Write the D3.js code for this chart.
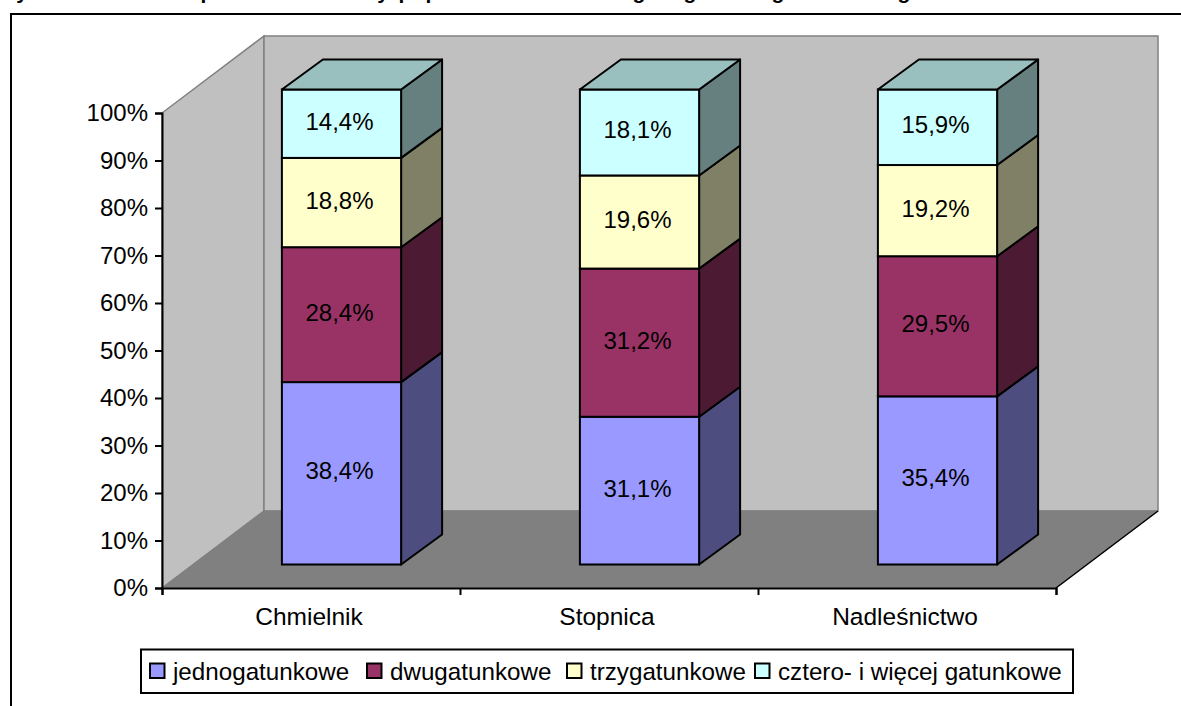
<!DOCTYPE html>
<html><head><meta charset="utf-8">
<style>html,body{margin:0;padding:0;background:#fff;overflow:hidden}svg{display:block}text{font-family:"Liberation Sans",Arial,sans-serif;fill:#000}</style>
<script src="https://cdnjs.cloudflare.com/ajax/libs/d3/7.8.5/d3.min.js"></script>
</head><body><script>
const categories=["Chmielnik","Stopnica","Nadleśnictwo"];
const seriesNames=["jednogatunkowe","dwugatunkowe","trzygatunkowe","cztero- i więcej gatunkowe"];
const jednogatunkowe=[38.4,31.1,35.4];
const dwugatunkowe=[28.4,31.2,29.5];
const trzygatunkowe=[18.8,19.6,19.2];
const czterogatunkowe=[14.4,18.1,15.9];
const seriesValues=[jednogatunkowe,dwugatunkowe,trzygatunkowe,czterogatunkowe];
const yTicks=[0,10,20,30,40,50,60,70,80,90,100];
const frontColors=["#9999FF","#993366","#FFFFCC","#CCFFFF"];
const sideColors=["#4D4D80","#4D1A33","#808066","#668080"];
const topColors=["#7373BF","#732640","#BFBF99","#99BFBF"];
const titleFragments=[["y",22],["p",207],["y",383],["p",405],["p",432],["g",639],["g",690],["g",778],["g",904]];
const legendSwatchX=[150,367,567,755];

const W=1181,H=706,FS=24;
const x0=162,x1=1056,yB=588,yT=113,dx=102,dy=-77;
const svg=d3.select("body").append("svg").attr("width",W).attr("height",H);
const y=d3.scaleLinear().domain([0,100]).range([yB,yT]);
const x=d3.scaleBand().domain(categories).range([x0,x1]).paddingInner(0.6).paddingOuter(0.3);
const step=x.step();
const pts=a=>a.map(p=>p.join(",")).join(" ");

// title remnant, cropped by the top edge
svg.append("g").selectAll("text").data(titleFragments).join("text")
 .attr("x",d=>d[1]).attr("y",-1).attr("text-anchor","middle").attr("font-size",21).attr("font-weight","bold").text(d=>d[0]);

// frame
svg.append("path").attr("d",`M11,${H}V14H${W}`).attr("fill","none").attr("stroke","#000").attr("stroke-width",2);

// walls
svg.append("polygon").attr("points",pts([[x0,yB],[x0+dx,yB+dy],[x0+dx,yT+dy],[x0,yT]])).attr("fill","#C0C0C0").attr("stroke","#808080").attr("stroke-width",1.5);
svg.append("polygon").attr("points",pts([[x0+dx,yT+dy],[x1+dx,yT+dy],[x1+dx,yB+dy],[x0+dx,yB+dy]])).attr("fill","#C0C0C0").attr("stroke","#808080").attr("stroke-width",1.5);
svg.append("polygon").attr("points",pts([[x0,yB],[x0+dx,yB+dy],[x1+dx,yB+dy],[x1,yB]])).attr("fill","#808080").attr("stroke","#808080");
svg.append("line").attr("x1",x1).attr("y1",yB).attr("x2",x1+dx).attr("y2",yB+dy).attr("stroke","#000").attr("stroke-width",1.5);

// bars
const fx=30.5,fy=-23.5,bx=41,by=-30;
const Y=v=>y(v)+fy;
categories.forEach((c,i)=>{
  let cum=0;
  const L=x(c)+fx,R=L+x.bandwidth();
  const g=svg.append("g");
  seriesValues.forEach((s,k)=>{
    const a=cum,b=cum+s[i];cum=b;
    g.append("polygon").attr("points",pts([[R,Y(a)],[R+bx,Y(a)+by],[R+bx,Y(b)+by],[R,Y(b)]])).attr("fill",sideColors[k]).attr("stroke","#000").attr("stroke-width",2).attr("stroke-linejoin","round");
    g.append("rect").attr("x",L).attr("y",Y(b)).attr("width",R-L).attr("height",Y(a)-Y(b)).attr("fill",frontColors[k]).attr("stroke","#000").attr("stroke-width",2);
    if(k===seriesValues.length-1)
      g.append("polygon").attr("points",pts([[L,Y(b)],[L+bx,Y(b)+by],[R+bx,Y(b)+by],[R,Y(b)]])).attr("fill",topColors[k]).attr("stroke","#000").attr("stroke-width",2).attr("stroke-linejoin","round");
    g.append("text").attr("x",(L+R)/2-2).attr("y",(Y(a)+Y(b))/2+6).attr("text-anchor","middle").attr("font-size",FS).text(s[i].toFixed(1).replace(".",",")+"%");
  });
});

// axes
const yAxis=d3.axisLeft(y).tickValues(yTicks).tickFormat(d=>d+"%").tickSize(7).tickPadding(7);
const ag=svg.append("g").attr("transform",`translate(${x0},0)`).call(yAxis);
ag.selectAll("path,line").attr("stroke","#000").attr("stroke-width",2);
ag.selectAll("text").attr("font-size",FS).attr("font-family",null);
const xAxis=d3.axisBottom(d3.scaleLinear().domain([0,3]).range([x0,x1])).tickValues([0,1,2,3]).tickFormat("").tickSize(7);
const bg=svg.append("g").attr("transform",`translate(0,${yB})`).call(xAxis);
bg.selectAll("path,line").attr("stroke","#000").attr("stroke-width",2);
categories.forEach((c,i)=>{
  svg.append("text").attr("x",x0+step*(i+0.5)-2).attr("y",625).attr("text-anchor","middle").attr("font-size",24.5).text(c);
});

// legend
svg.append("rect").attr("x",141).attr("y",649.5).attr("width",932).attr("height",43.5).attr("fill","#fff").attr("stroke","#000").attr("stroke-width",2);
seriesNames.forEach((n,k)=>{
  svg.append("rect").attr("x",legendSwatchX[k]).attr("y",663.5).attr("width",14.5).attr("height",14.5).attr("fill",frontColors[k]).attr("stroke","#000").attr("stroke-width",2);
  svg.append("text").attr("x",legendSwatchX[k]+23).attr("y",680).attr("font-size",24.2).text(n);
});
</script></body></html>
